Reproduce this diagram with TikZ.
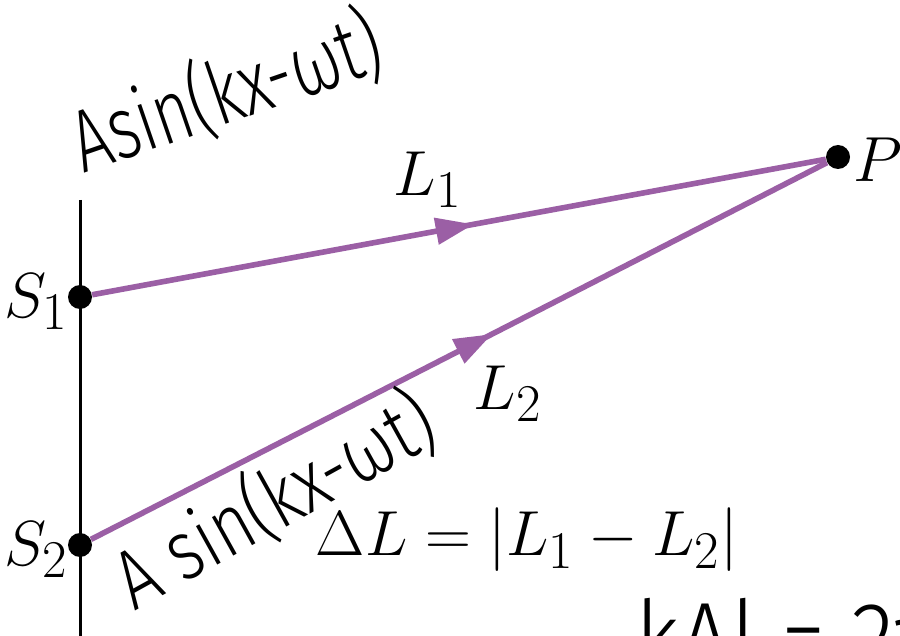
\documentclass[tikz,border=0pt]{standalone}
\usepackage{graphicx}
\usepackage{fontspec}
\newfontfamily\hand{Fira Sans Light}
\usetikzlibrary{arrows.meta,decorations.markings}
\definecolor{wave}{RGB}{155,95,165}
\newcommand{\mylab}[1]{\scalebox{1.28}{$#1$}}
\tikzset{
  dot/.style={circle,fill=black,inner sep=0pt,minimum size=12pt},
  ray/.style={draw=wave,line width=2.8pt,postaction={decorate},
    decoration={markings,mark=at position #1 with {\arrow[wave]{Triangle[length=19pt,width=13pt]}}}},
  lbl/.style={font=\fontsize{24.88}{30}\selectfont,inner sep=0pt},
  hw/.style={font=\hand\fontsize{#1}{#1}\selectfont,inner sep=0pt},
}
\begin{document}
\begin{tikzpicture}[x=0.5pt,y=-0.5pt]
\useasboundingbox (0,0) rectangle (900,636);
\clip (0,0) rectangle (900,636);
\fill[white] (0,0) rectangle (900,636);
% wall
\coordinate (wtop) at (80,200);
\coordinate (wbot) at (80,640);
\draw[line width=1.5pt] (wtop) -- (wbot);
% points
\node[dot] (S1) at (80,297) {};
\node[dot] (S2) at (80,545) {};
\node[dot] (P) at (838,157) {};
% rays
\draw[ray=0.52] (S1) -- (P);
\draw[ray=0.545] (S2) -- (P);
% labels
\node[lbl] (lS1) at (36,302) {\mylab{S_1}};
\node[lbl] (lS2) at (36,550) {\mylab{S_2}};
\node[lbl,anchor=west] (lP) at (853,160) {\mylab{P}};
\node[lbl] (lL1) at (428,180) {\mylab{L_1}};
\node[lbl] (lL2) at (508,394) {\mylab{L_2}};
\node[lbl] (dL) at (527,540) {\mylab{\Delta L = |L_1 - L_2|}};
% handwritten notes
\node[hw=44,rotate=19,xscale=0.74] (h1) at (226,92) {Asin(kx-ωt)};
\node[hw=42,rotate=29,xscale=0.8] (h2) at (274,500) {A sin(kx-ωt)};
\node[hw=50,anchor=base west,xscale=0.9] (h3) at (635,672) {kΔl = 2π};
\end{tikzpicture}
\end{document}
